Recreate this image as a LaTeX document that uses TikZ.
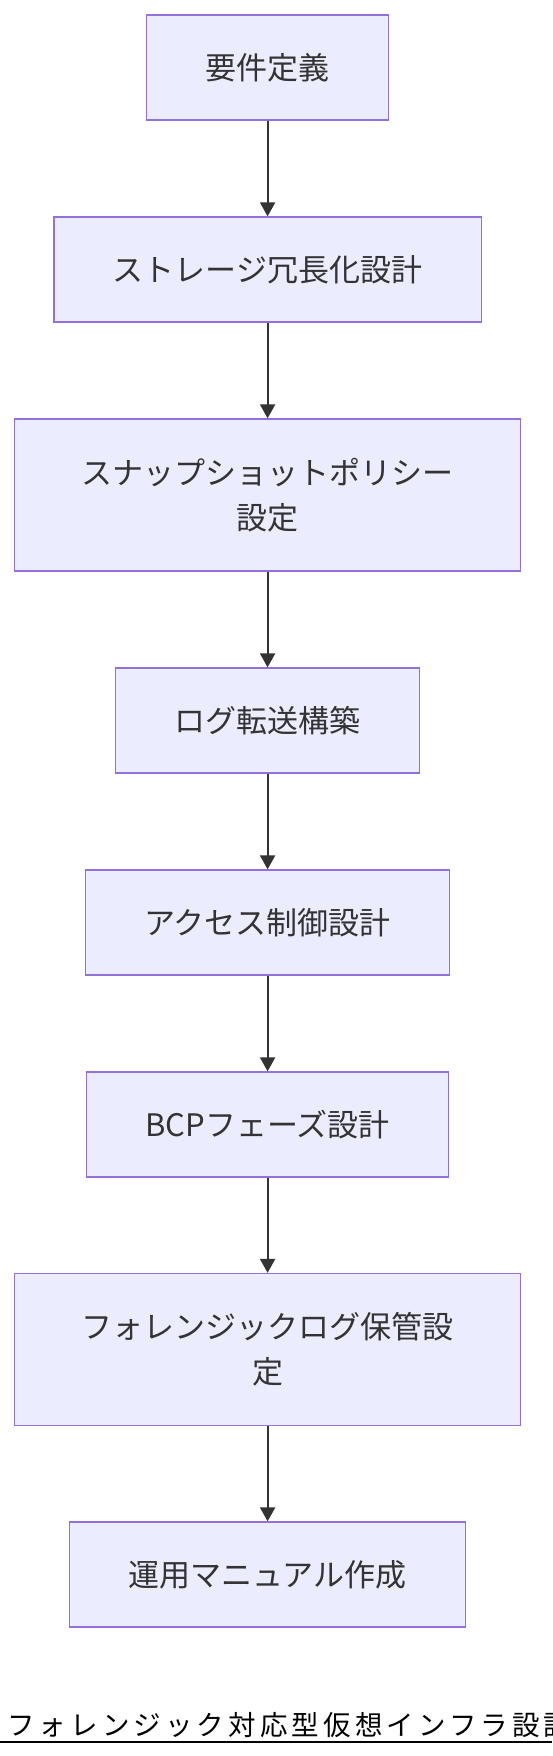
\documentclass[tikz,border=0pt]{standalone}
\usepackage{fontspec}
\setmainfont{Noto Sans CJK JP}
\newfontfamily\titlefont[LetterSpace=15]{Noto Sans CJK JP}
\usetikzlibrary{arrows.meta}
\definecolor{boxfill}{HTML}{ECECFF}
\definecolor{boxline}{HTML}{9370DB}
\definecolor{ink}{HTML}{333333}
\tikzset{
  stepbox/.style={draw=boxline,fill=boxfill,line width=1.3pt,text=ink,align=center,
    minimum height=105pt,inner xsep=59pt,
    font=\fontsize{31pt}{45pt}\selectfont},
  widebox/.style={stepbox,minimum width=506pt,minimum height=152pt},
  flow/.style={draw=ink,line width=2pt,-{Triangle[length=14pt,width=15pt]}}
}
\begin{document}
\begin{tikzpicture}[x=1pt,y=-1pt]
    \useasboundingbox (0,0) rectangle (552,1756);
    \node[stepbox] (req) at (267.6,67.5) {要件定義};
    \node[stepbox] (storage) at (267.6,269.5) {ストレージ冗長化設計};
    \node[widebox] (snap) at (267.6,495) {スナップショットポリシー\\設定};
    \node[stepbox] (logfwd) at (267.6,720.5) {ログ転送構築};
    \node[stepbox] (access) at (267.6,922.5) {アクセス制御設計};
    \node[stepbox] (bcp) at (267.6,1124.5) {BCPフェーズ設計};
    \node[widebox] (forensic) at (267.6,1349.5) {フォレンジックログ保管設\\定};
    \node[stepbox] (manual) at (267.6,1574.5) {運用マニュアル作成};
    \foreach \a/\b in {req/storage,storage/snap,snap/logfwd,logfwd/access,access/bcp,bcp/forensic,forensic/manual}
        \draw[flow] (\a) -- (\b);
    % title, cut off at the right edge
    \node[anchor=base west,inner sep=0pt,font=\titlefont\fontsize{27.5pt}{30pt}\selectfont] (title) at (7,1735) {フォレンジック対応型仮想インフラ設計};
    \coordinate (ulstart) at (0,1742);
    \coordinate (ulend) at (552,1742);
    \draw[line width=2pt] (ulstart) -- (ulend);
\end{tikzpicture}
\end{document}
